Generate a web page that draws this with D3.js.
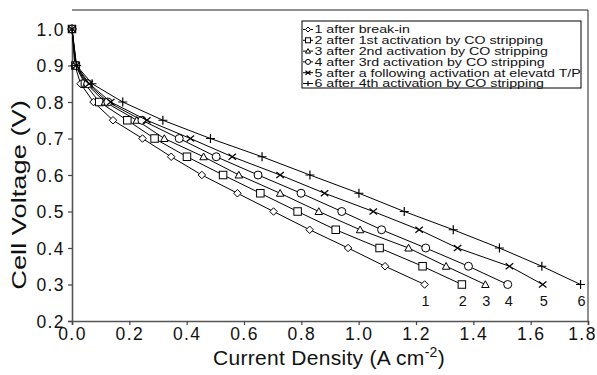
<!DOCTYPE html>
<html><head><meta charset="utf-8">
<script src="https://cdn.jsdelivr.net/npm/d3@7"></script>
<style>body{margin:0;background:#fff}svg{display:block}</style>
</head><body><svg id="c" width="597" height="375"></svg>
<script>
const voltages = [1.0, 0.9, 0.85, 0.8, 0.75, 0.7, 0.65, 0.6, 0.55, 0.5, 0.45, 0.4, 0.35, 0.3];
const s1 = [0, 0.010, 0.030, 0.075, 0.143, 0.246, 0.346, 0.453, 0.577, 0.703, 0.829, 0.963, 1.092, 1.230];
const s2 = [0, 0.012, 0.045, 0.095, 0.193, 0.288, 0.401, 0.527, 0.657, 0.787, 0.920, 1.073, 1.223, 1.360];
const s3 = [0, 0.013, 0.050, 0.115, 0.226, 0.322, 0.459, 0.582, 0.726, 0.861, 1.005, 1.174, 1.305, 1.442];
const s4 = [0, 0.014, 0.055, 0.125, 0.244, 0.374, 0.503, 0.649, 0.799, 0.941, 1.080, 1.234, 1.383, 1.520];
const s5 = [0, 0.015, 0.060, 0.135, 0.261, 0.413, 0.559, 0.726, 0.881, 1.051, 1.211, 1.345, 1.526, 1.642];
const s6 = [0, 0.016, 0.070, 0.177, 0.317, 0.483, 0.663, 0.830, 1.001, 1.159, 1.330, 1.491, 1.639, 1.774];
const seriesNames = ["1 after break-in","2 after 1st activation by CO stripping","3 after 2nd activation by CO stripping","4 after 3rd activation by CO stripping","5 after a following activation at elevatd T/P","6 after 4th activation by CO stripping"];
const endLabels = ["1","2","3","4","5","6"];
const markerTypes = ["diamond","square","triangle","circle","x","plus"];
const xTicks = [0,0.2,0.4,0.6,0.8,1.0,1.2,1.4,1.6,1.8];
const yTicks = [0.2,0.3,0.4,0.5,0.6,0.7,0.8,0.9,1.0];
const allSeries = [s1,s2,s3,s4,s5,s6];

const svg = d3.select("#c");
const font = "Liberation Sans, Arial, Helvetica, sans-serif";
const L=72, R=588, T=10, B=321;
const x = d3.scaleLinear().domain([0,1.8]).range([L,R]);
const y = d3.scaleLinear().domain([0.2,1.0]).range([B,29]);

// frame
svg.append("line").attr("x1",L).attr("x2",R).attr("y1",T).attr("y2",T).attr("stroke","#222").attr("stroke-width",1);
svg.append("line").attr("x1",R).attr("x2",R).attr("y1",T).attr("y2",B).attr("stroke","#222").attr("stroke-width",1);

const xAxis = svg.append("g").attr("transform",`translate(0,${B})`)
  .call(d3.axisBottom(x).tickValues(xTicks).tickFormat(d3.format(".1f")).tickSize(4).tickPadding(3));
const yAxis = svg.append("g").attr("transform",`translate(${L},0)`)
  .call(d3.axisLeft(y).tickValues(yTicks).tickFormat(d3.format(".1f")).tickSize(4).tickPadding(3));
[xAxis,yAxis].forEach(g=>{
  g.select(".domain").attr("stroke","#555").attr("stroke-width",1.6);
  g.selectAll(".tick line").attr("stroke","#444").attr("stroke-width",1.2);
  g.selectAll("text").attr("font-family",font).attr("font-size",17.5).attr("fill","#111").style("letter-spacing","1.4px");
});
yAxis.selectAll("text").attr("dy","0.36em");
xAxis.selectAll(".tick").filter(d=>d===1.8).select("text").attr("dx",-6);

// titles
const xt = svg.append("text").attr("x",329).attr("y",365).attr("text-anchor","middle")
  .attr("font-family",font).attr("font-size",21).attr("fill","#111").style("letter-spacing","0.3px");
xt.append("tspan").text("Current Density (A cm");
xt.append("tspan").attr("font-size",14).attr("dy",-8).text("-2");
xt.append("tspan").attr("dy",8).text(")");
svg.append("text").attr("transform","translate(26,195) rotate(-90) scale(1.3,1)").attr("text-anchor","middle")
  .attr("font-family",font).attr("font-size",21).attr("fill","#111").text("Cell Voltage (V)");

function marker(g, type, cx, cy, s){
  const h=s/2;
  if(type==="diamond") g.append("path").attr("d",`M${cx},${cy-h}L${cx+h},${cy}L${cx},${cy+h}L${cx-h},${cy}Z`).attr("fill","#fff").attr("stroke","#000");
  else if(type==="square") g.append("rect").attr("x",cx-h).attr("y",cy-h).attr("width",s).attr("height",s).attr("fill","#fff").attr("stroke","#000");
  else if(type==="triangle") g.append("path").attr("d",`M${cx},${cy-h}L${cx+h},${cy+h*0.8}L${cx-h},${cy+h*0.8}Z`).attr("fill","#fff").attr("stroke","#000");
  else if(type==="circle") g.append("circle").attr("cx",cx).attr("cy",cy).attr("r",h).attr("fill","#fff").attr("stroke","#000");
  else if(type==="x") g.append("path").attr("d",`M${cx-h},${cy-h*0.8}L${cx+h},${cy+h*0.8}M${cx-h},${cy+h*0.8}L${cx+h},${cy-h*0.8}`).attr("stroke","#000").attr("stroke-width",1.2);
  else if(type==="plus") g.append("path").attr("d",`M${cx-h},${cy}L${cx+h},${cy}M${cx},${cy-h}L${cx},${cy+h}`).attr("stroke","#000").attr("stroke-width",1.2);
}

const line = d3.line().x(d=>x(d[0])).y(d=>y(d[1]));
allSeries.forEach((s,i)=>{
  const pts = s.map((v,j)=>[v,voltages[j]]);
  const g = svg.append("g");
  g.append("path").attr("d",line(pts)).attr("fill","none").attr("stroke","#000").attr("stroke-width",1);
  pts.forEach(p=>marker(g, markerTypes[i], x(p[0]), y(p[1]), markerTypes[i]==="circle"?8:(markerTypes[i]==="plus"?9:7.5)));
  const last = pts[pts.length-1];
  svg.append("text").attr("x",x(last[0])+1).attr("y",y(last[1])+21).attr("text-anchor","middle")
    .attr("font-family",font).attr("font-size",14.5).attr("fill","#111").text(endLabels[i]);
});

// legend
const lg = svg.append("g");
lg.append("rect").attr("x",302).attr("y",21).attr("width",279).attr("height",67).attr("fill","#fff").attr("stroke","#000").attr("stroke-width",1);
seriesNames.forEach((n,i)=>{
  const cy = 29.5 + i*10.8;
  lg.append("line").attr("x1",303).attr("x2",313).attr("y1",cy).attr("y2",cy).attr("stroke","#000");
  marker(lg, markerTypes[i], 308, cy, 5);
  lg.append("text").attr("transform",`translate(314.5,${cy+3.9}) scale(1.34,1)`).attr("font-family",font).attr("font-size",10.6).attr("fill","#111").text(n);
});
</script></body></html>
